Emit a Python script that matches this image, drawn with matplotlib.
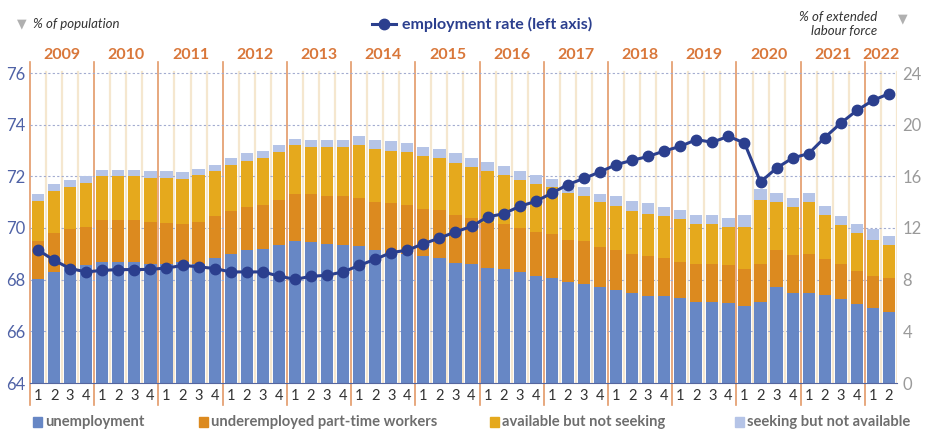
import matplotlib
matplotlib.use("Agg")
import matplotlib.pyplot as plt
from matplotlib.lines import Line2D
from matplotlib.patches import Rectangle
import numpy as np

plt.rcParams['font.family'] = ['Lato', 'DejaVu Sans']

years = [str(y) for y in range(2009, 2023)]
quarters = ['1', '2', '3', '4'] * 13 + ['1', '2']

# components, % of extended labour force (right axis)
unemployment = [8.05, 8.6, 9.0, 9.1, 9.4, 9.4, 9.4, 9.2, 9.2, 9.4, 9.2, 9.7,
                10.0, 10.3, 10.4, 10.7, 11.0, 10.9, 10.8, 10.7, 10.6, 10.3, 10.1, 10.0,
                9.8, 9.7, 9.3, 9.2, 8.9, 8.8, 8.6, 8.3, 8.1, 7.8, 7.7, 7.4,
                7.2, 7.0, 6.7, 6.7, 6.6, 6.3, 6.3, 6.2, 6.0, 6.3, 7.4, 7.0,
                7.0, 6.8, 6.5, 6.1, 5.8, 5.5]
underemployed = [2.95, 3.0, 2.9, 3.0, 3.2, 3.2, 3.2, 3.3, 3.2, 2.9, 3.3, 3.2,
                 3.3, 3.3, 3.4, 3.5, 3.6, 3.7, 3.7, 3.8, 3.7, 3.7, 3.8, 3.8,
                 3.7, 3.7, 3.7, 3.6, 3.5, 3.5, 3.4, 3.4, 3.4, 3.3, 3.3, 3.1,
                 3.1, 3.0, 3.1, 3.0, 2.8, 2.9, 2.9, 2.9, 2.8, 2.9, 2.9, 2.9,
                 3.0, 2.8, 2.7, 2.6, 2.5, 2.6]
available = [3.1, 3.3, 3.3, 3.4, 3.4, 3.4, 3.4, 3.4, 3.5, 3.5, 3.6, 3.5,
             3.6, 3.6, 3.6, 3.7, 3.8, 3.7, 3.8, 3.8, 4.1, 4.1, 4.1, 4.1,
             4.1, 4.0, 4.0, 3.9, 4.0, 3.8, 3.7, 3.7, 3.7, 3.6, 3.5, 3.5,
             3.4, 3.3, 3.3, 3.2, 3.3, 3.1, 3.1, 3.0, 3.3, 5.0, 3.7, 3.7,
             4.0, 3.4, 3.0, 2.9, 2.8, 2.6]
seeking = [0.5, 0.5, 0.5, 0.5, 0.5, 0.5, 0.5, 0.5, 0.5, 0.5, 0.5, 0.5,
           0.5, 0.6, 0.6, 0.5, 0.5, 0.5, 0.5, 0.5, 0.7, 0.7, 0.7, 0.7,
           0.7, 0.7, 0.8, 0.7, 0.7, 0.7, 0.7, 0.7, 0.6, 0.6, 0.7, 0.6,
           0.8, 0.8, 0.8, 0.7, 0.7, 0.7, 0.7, 0.7, 0.9, 0.8, 0.7, 0.7,
           0.7, 0.7, 0.7, 0.7, 0.8, 0.7]

# employment rate, % of population (left axis)
employment = [69.15, 68.75, 68.43, 68.3, 68.36, 68.39, 68.39, 68.4,
              68.45, 68.55, 68.5, 68.43, 68.3, 68.3, 68.3, 68.14,
              68.01, 68.13, 68.17, 68.3, 68.55, 68.79, 69.05, 69.14,
              69.39, 69.61, 69.85, 70.06, 70.43, 70.55, 70.84, 71.03,
              71.35, 71.68, 71.92, 72.17, 72.45, 72.62, 72.77, 72.98,
              73.16, 73.42, 73.32, 73.55, 73.29, 71.78, 72.32, 72.71,
              72.88, 73.5, 74.06, 74.55, 74.94, 75.2]

series = [
    ('unemployment', unemployment, '#6787c5'),
    ('underemployed part-time workers', underemployed, '#dc8a1f'),
    ('available but not seeking', available, '#e5a91d'),
    ('seeking but not available', seeking, '#b5c4e7'),
]
line_col = '#2b3f8e'
year_col = '#d9773a'

W, H = 925, 432
fig = plt.figure(figsize=(W / 100, H / 100), dpi=100)
x0, x1, yb, yt = 30, 897, 383, 62
ax = fig.add_axes([x0 / W, 1 - yb / H, (x1 - x0) / W, (yb - yt) / H])
ax2 = ax.twinx()

x = np.arange(len(unemployment))
n = len(x)
ax.set_xlim(-0.5, n - 0.5)
top_r = 24 + (73 - yt) / ((yb - 73) / 24)
ax.set_ylim(0, top_r)
ax2.set_ylim(64, 64 + top_r / 2)

# background separators
for b in np.arange(-0.5, n, 1.0):
    if (b + 0.5) % 4 == 0 and b < n - 1:
        ax.plot([b, b], [-0.07, 1.0], transform=ax.get_xaxis_transform(),
                color='#e39a68', lw=1.2, clip_on=False, zorder=0.5)
    else:
        ax.plot([b, b], [0, 0.97], transform=ax.get_xaxis_transform(),
                color='#f5e7cf', lw=1.6, zorder=0.4)

for v in range(4, 25, 4):
    ax.axhline(v, color='#a3acd0', lw=0.8, ls=(0, (2, 2)), zorder=0.6)

bottom = np.zeros(n)
for name, vals, col in series:
    vals = np.array(vals)
    ax.bar(x, vals, width=0.76, bottom=bottom, color=col, zorder=2)
    bottom += vals

ax2.plot(x, employment, color=line_col, lw=2.2, marker='o', ms=7.5, zorder=3)

# axes styling
for s in ['top', 'left', 'right']:
    ax.spines[s].set_visible(False)
    ax2.spines[s].set_visible(False)
ax.spines['bottom'].set_color('#55669f')
ax2.spines['bottom'].set_visible(False)

ax.yaxis.tick_right()
ax.set_yticks(range(0, 25, 4))
ax.tick_params(axis='y', length=0, labelsize=12, labelcolor='#9a9a9a', pad=4)
ax2.yaxis.tick_left()
ax2.set_yticks(range(64, 77, 2))
ax2.tick_params(axis='y', length=0, labelsize=12, labelcolor='#4f62a6', pad=3)

ax.set_xticks(x)
ax.set_xticklabels(quarters)
ax.tick_params(axis='x', length=0, labelsize=10.5, labelcolor='#333333', pad=4)

for i, yr in enumerate(years):
    cx = 4 * i + 1.5 if i < 13 else 52.5
    ax.text(cx, 1.0 + 7 / (yb - yt), yr, transform=ax.get_xaxis_transform(),
            ha='center', va='center', fontsize=11.5, fontweight='bold', color=year_col)

# header
fig.text(22 / W, 1 - 24 / H, '\u25BC', color='#b0b0b0', fontsize=9, ha='center', va='center',
         family=['DejaVu Sans'])
fig.text(33 / W, 1 - 24 / H, '% of population', style='italic', fontsize=9.5,
         color='#333333', ha='left', va='center')
fig.text(903 / W, 1 - 19 / H, '\u25BC', color='#b0b0b0', fontsize=9, ha='center', va='center',
         family=['DejaVu Sans'])
fig.text(877 / W, 1 - 24 / H, '% of extended\nlabour force', style='italic', fontsize=9.5,
         color='#333333', ha='right', va='center', linespacing=1.1)

fig.add_artist(Line2D([372 / W, 396 / W], [1 - 24 / H] * 2, color=line_col, lw=2.2))
fig.add_artist(Line2D([384 / W], [1 - 24 / H], color=line_col, marker='o', ms=7.5))
fig.text(402 / W, 1 - 24 / H, 'employment rate (left axis)', fontsize=11.5, fontweight='bold',
         color=line_col, ha='left', va='center')

# bottom legend
leg_x = [33, 199, 490, 735]
for (name, vals, col), lx in zip(series, leg_x):
    fig.add_artist(Rectangle((lx / W, 1 - 427 / H), 9 / W, 10 / H, color=col,
                             transform=fig.transFigure))
    fig.text((lx + 12) / W, 1 - 422 / H, name, fontsize=10.6, fontweight='bold',
             color='#6e6e6e', ha='left', va='center')

fig.savefig('out.png', dpi=100)
